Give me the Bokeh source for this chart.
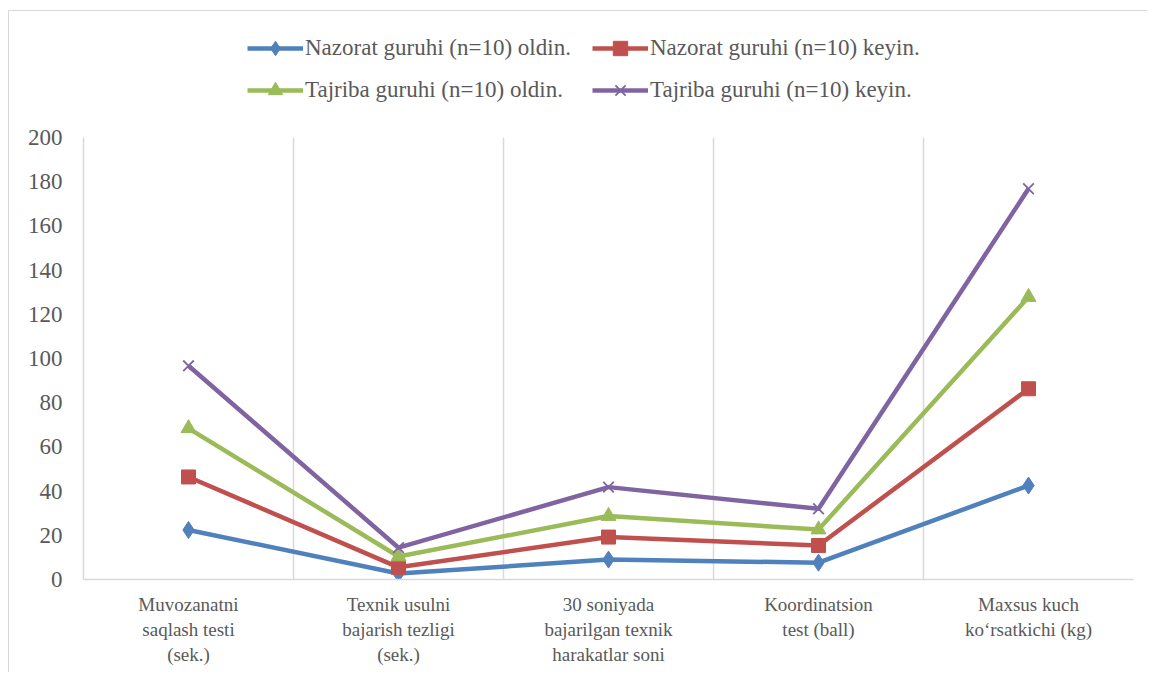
from bokeh.plotting import figure
from bokeh.models import FixedTicker, Legend, LegendItem, Range1d
from bokeh.layouts import column
from bokeh.embed import file_html
from bokeh.resources import INLINE

categories = [
    "Muvozanatni\nsaqlash testi\n(sek.)",
    "Texnik usulni\nbajarish tezligi\n(sek.)",
    "30 soniyada\nbajarilgan texnik\nharakatlar soni",
    "Koordinatsion\ntest (ball)",
    "Maxsus kuch\nko\u2018rsatkichi (kg)",
]
series_names = [
    "Nazorat guruhi (n=10) oldin.",
    "Nazorat guruhi (n=10) keyin.",
    "Tajriba guruhi (n=10) oldin.",
    "Tajriba guruhi (n=10) keyin.",
]
nazorat_oldin = [22.4, 2.7, 9.0, 7.6, 42.5]
nazorat_keyin = [46.4, 5.5, 19.2, 15.4, 86.3]
tajriba_oldin = [68.4, 10.4, 28.7, 22.6, 127.8]
tajriba_keyin = [96.7, 14.4, 41.8, 32.0, 176.8]
y_ticks = [0, 20, 40, 60, 80, 100, 120, 140, 160, 180, 200]

colors = ["#4F81BD", "#C0504D", "#9BBB59", "#8064A2"]
markers = ["diamond", "square", "triangle", "x"]
marker_sizes = [17, 14, 15, 15]
FONT = "Liberation Serif"
TXT = "#595959"

xs = [i + 0.5 for i in range(len(categories))]
series = [nazorat_oldin, nazorat_keyin, tajriba_oldin, tajriba_keyin]


def style_marks(fig, x, y, col, mk, ms):
    ln = fig.line(x, y, line_color=col, line_width=4.5)
    if mk == "x":
        sc = fig.scatter(x, y, marker=mk, size=ms, line_color=col, line_width=1.8)
    else:
        sc = fig.scatter(x, y, marker=mk, size=ms, fill_color=col, line_color=col)
    return ln, sc


# ---- main chart ----
p = figure(width=1138, height=561, output_backend="svg", toolbar_location=None,
           x_range=Range1d(0, len(categories)), y_range=Range1d(0, 200),
           min_border_left=74, min_border_right=14, min_border_top=26, min_border_bottom=93)
p.outline_line_color = None
p.border_fill_color = "white"

p.yaxis.ticker = FixedTicker(ticks=y_ticks)
p.xaxis.ticker = FixedTicker(ticks=xs)
p.xaxis.major_label_overrides = {x: c for x, c in zip(xs, categories)}
for ax in (p.xaxis, p.yaxis):
    ax.axis_line_color = "#d9d9d9"
    ax.axis_line_width = 1.5
    ax.major_tick_line_color = None
    ax.minor_tick_line_color = None
    ax.major_label_text_font = FONT
    ax.major_label_text_color = TXT
p.yaxis.major_label_text_font_size = "23px"
p.yaxis.major_label_standoff = 15
p.xaxis.major_label_text_font_size = "19px"
p.xaxis.major_label_standoff = 8
p.xaxis.major_label_text_line_height = 1.2

p.ygrid.grid_line_color = None
p.xgrid.ticker = FixedTicker(ticks=[1, 2, 3, 4, 5])
p.xgrid.grid_line_color = "#d9d9d9"
p.xgrid.grid_line_width = 1.5

for vals, col, mk, ms in zip(series, colors, markers, marker_sizes):
    style_marks(p, xs, vals, col, mk, ms)

# ---- legend strip (its renderers lie outside its own view; only the legend shows) ----
lf = figure(width=1138, height=100, output_backend="svg", toolbar_location=None,
            x_range=Range1d(-10, -9), y_range=Range1d(-10, -9),
            x_axis_type=None, y_axis_type=None, min_border=0)
lf.outline_line_color = None
lf.grid.visible = False
items = []
for name, vals, col, mk, ms in zip(series_names, series, colors, markers, marker_sizes):
    ln, sc = style_marks(lf, xs, vals, col, mk, ms)
    items.append(LegendItem(label=name, renderers=[ln, sc]))

legend = Legend(items=items, location=(164, 3), orientation="horizontal", ncols=2,
                label_text_font=FONT, label_text_font_size="23px",
                label_text_color=TXT, glyph_width=56, glyph_height=36,
                label_height=36, label_width=281, label_standoff=2, spacing=6,
                padding=0, margin=0, border_line_color=None, background_fill_alpha=0)
lf.add_layout(legend, "center")

layout = column(lf, p, spacing=0)
layout.styles = {"margin-left": "8px", "margin-top": "10px",
                 "border-left": "1px solid #d9d9d9", "border-top": "1px solid #d9d9d9"}

open("out.html", "w").write(file_html(layout, INLINE))
